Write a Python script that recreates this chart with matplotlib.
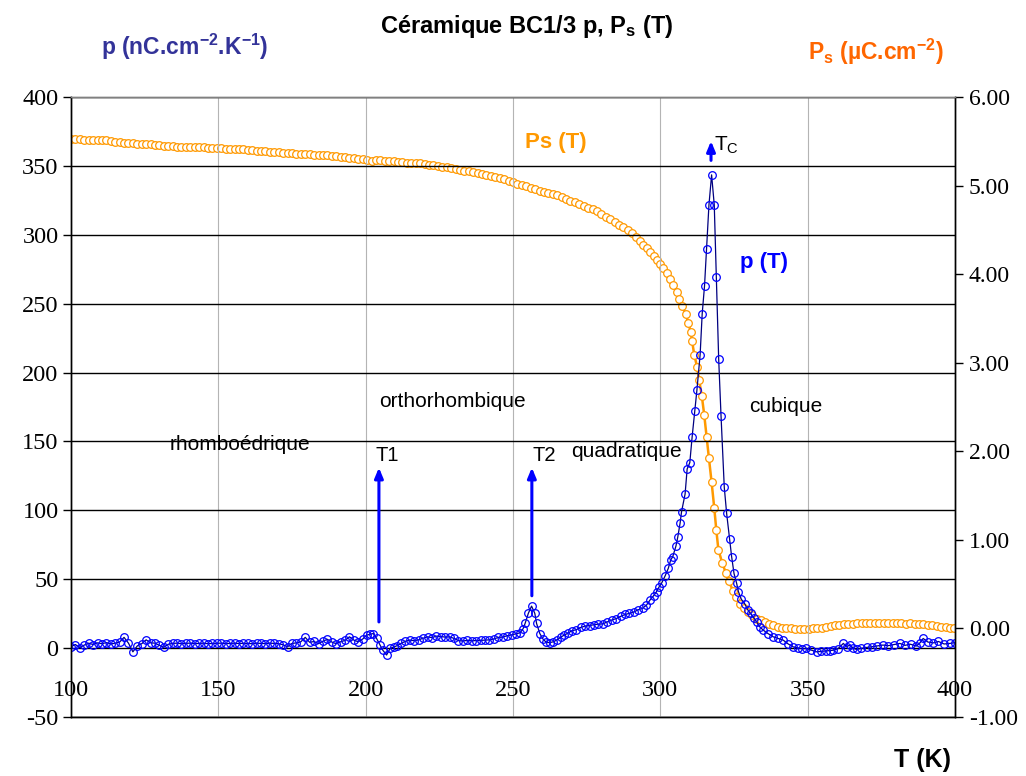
import matplotlib
matplotlib.use("Agg")
import matplotlib.pyplot as plt
import numpy as np

plt.rcParams['mathtext.default'] = 'regular'

# p (T) : courant pyroélectrique, nC.cm-2.K-1
T_p = [100.0, 101.5, 103.0, 104.5, 106.0, 107.5, 109.0, 110.5, 112.0, 113.5,
       115.0, 116.5, 118.0, 119.5, 121.0, 122.5, 124.0, 125.5, 127.0, 128.5,
       130.0, 131.5, 133.0, 134.5, 136.0, 137.5, 139.0, 140.5, 142.0, 143.5,
       145.0, 146.5, 148.0, 149.5, 151.0, 152.5, 154.0, 155.5, 157.0, 158.5,
       160.0, 161.5, 163.0, 164.5, 166.0, 167.5, 169.0, 170.5, 172.0, 173.5,
       175.0, 176.5, 178.0, 179.5, 181.0, 182.5, 184.0, 185.5, 187.0, 188.5,
       190.0, 191.5, 193.0, 194.5, 196.0, 197.5, 199.0, 200.3, 201.5, 202.6,
       203.7, 204.9, 205.8, 207.1, 208.3, 209.5, 210.7, 212.0, 213.5, 215.0,
       216.5, 218.0, 219.5, 221.0, 222.5, 224.0, 225.5, 227.0, 228.5, 230.0,
       231.5, 233.0, 234.5, 236.0, 237.5, 239.0, 240.5, 242.0, 243.5, 245.0,
       246.5, 248.0, 249.5, 251.0, 252.4, 253.4, 254.1, 255.2, 256.3, 257.4,
       258.0, 259.1, 260.2, 261.3, 262.5, 263.7, 265.0, 266.2, 267.4, 268.6,
       270.0, 271.5, 273.0, 274.5, 276.0, 277.5, 279.0, 280.5, 282.0, 283.5,
       285.0, 286.5, 288.0, 289.5, 291.0, 292.5, 294.0, 295.3, 296.5, 297.7,
       298.7, 299.6, 300.4, 301.6, 302.7, 303.5, 304.2, 305.3, 305.9, 306.7,
       307.2, 308.4, 309.1, 310.0, 310.8, 311.7, 312.4, 313.5, 314.2, 315.0,
       315.7, 316.5, 317.4, 318.3, 319.0, 319.8, 320.6, 321.7, 322.5, 323.5,
       324.2, 325.0, 325.9, 326.5, 327.5, 328.7, 329.6, 330.6, 331.7, 332.7,
       333.7, 334.9, 336.5, 338.3, 340.0, 341.7, 343.4, 345.1, 346.6, 348.1,
       349.6, 351.3, 353.0, 354.6, 356.2, 357.6, 358.7, 360.3, 362.1, 363.2,
       364.3, 365.5, 366.6, 368.2, 370.0, 371.8, 373.6, 375.5, 377.4, 379.3,
       381.3, 383.0, 384.9, 386.9, 388.1, 389.2, 390.8, 392.6, 394.4, 396.3,
       398.3, 400.0]
p_val = [1.0, 2.6, 0.3, 2.2, 3.6, 2.6, 3.8, 3.2, 4.0, 3.0,
         3.6, 4.4, 7.8, 3.6, -2.7, 1.6, 3.2, 6.0, 3.8, 3.6,
         2.0, 0.6, 2.8, 3.4, 3.6, 3.2, 3.5, 3.6, 3.3, 3.4,
         3.6, 3.2, 3.4, 3.5, 3.6, 3.3, 3.4, 3.6, 3.3, 3.5,
         3.4, 3.2, 3.6, 3.4, 3.3, 3.6, 3.4, 3.2, 2.4, 1.0,
         3.4, 3.8, 4.6, 7.8, 4.2, 4.8, 3.2, 5.0, 6.4, 4.4,
         3.2, 4.6, 5.6, 8.2, 5.8, 4.6, 6.6, 9.4, 10.0, 10.6,
         7.0, 2.2, -1.5, -5.0, -0.2, 0.8, 1.8, 3.4, 5.0, 5.8,
         5.4, 6.0, 7.2, 8.2, 7.6, 8.7, 8.4, 8.0, 8.2, 7.0,
         5.4, 5.2, 5.6, 5.3, 5.5, 5.6, 5.8, 6.0, 6.6, 7.8,
         8.0, 9.0, 9.6, 10.4, 11.1, 14.0, 17.9, 25.2, 30.5, 25.2,
         17.9, 10.6, 6.5, 4.2, 4.0, 4.6, 6.0, 8.0, 9.4, 10.8,
         12.6, 13.4, 15.0, 16.0, 16.4, 17.0, 17.4, 17.6, 19.0, 20.4,
         21.4, 23.0, 24.4, 25.2, 26.2, 27.8, 29.0, 31.2, 34.9, 38.0,
         40.9, 44.5, 47.0, 52.3, 57.9, 63.9, 66.3, 74.1, 80.4, 90.6,
         99.0, 111.8, 130.0, 134.6, 153.5, 172.3, 187.0, 212.8, 242.5, 263.0,
         290.0, 321.7, 343.5, 321.7, 269.6, 209.9, 168.5, 116.7, 97.8, 79.0,
         66.3, 54.2, 47.0, 41.0, 35.4, 32.0, 28.0, 25.2, 22.0, 19.1,
         15.5, 13.1, 10.6, 8.2, 7.0, 5.8, 3.0, 0.9, 0.2, -0.5,
         -0.2, -1.5, -2.7, -2.4, -2.0, -1.8, -1.5, -0.4, 3.4, 1.0,
         2.2, 0.0, -1.0, -0.2, 0.5, 1.0, 1.6, 2.2, 1.8, 2.6,
         3.4, 2.0, 2.8, 1.5, 3.8, 7.0, 4.4, 3.8, 4.8, 3.0,
         3.4, 4.0]

# Ps (T) : polarisation spontanée, µC.cm-2
T_ps = [100.0, 101.5, 103.0, 104.5, 106.0, 107.5, 109.0, 110.5, 112.0, 113.5,
        115.0, 116.5, 118.0, 119.5, 121.0, 122.5, 124.0, 125.5, 127.0, 128.5,
        130.0, 131.5, 133.0, 134.5, 136.0, 137.5, 139.0, 140.5, 142.0, 143.5,
        145.0, 146.5, 148.0, 149.5, 151.0, 152.5, 154.0, 155.5, 157.0, 158.5,
        160.0, 161.5, 163.0, 164.5, 166.0, 167.5, 169.0, 170.5, 172.0, 173.5,
        175.0, 176.5, 178.0, 179.5, 181.0, 182.5, 184.0, 185.5, 187.0, 188.5,
        190.0, 191.5, 193.0, 194.5, 196.0, 197.5, 199.0, 200.5, 202.0, 203.5,
        205.0, 206.5, 208.0, 209.5, 211.0, 212.5, 214.0, 215.5, 217.0, 218.5,
        220.0, 221.5, 223.0, 224.5, 226.0, 227.5, 229.0, 230.5, 232.0, 233.5,
        235.0, 236.5, 238.0, 239.5, 241.0, 242.5, 244.0, 245.5, 247.0, 248.5,
        250.0, 251.5, 253.0, 254.5, 256.0, 257.5, 259.0, 260.5, 262.0, 263.5,
        265.0, 266.5, 268.0, 269.5, 271.0, 272.5, 274.0, 275.5, 277.0, 278.5,
        280.0, 281.5, 283.0, 284.5, 286.0, 287.5, 289.0, 290.5, 291.8, 293.0,
        294.2, 295.4, 296.6, 297.7, 298.8, 299.9, 301.0, 302.2, 303.3, 304.4,
        305.5, 306.5, 307.4, 308.6, 309.5, 310.3, 310.8, 311.5, 312.5, 313.2,
        314.1, 314.9, 315.7, 316.5, 317.4, 318.3, 319.0, 319.7, 321.0, 322.2,
        323.3, 324.7, 325.8, 327.0, 328.4, 329.8, 331.2, 332.7, 334.0, 335.4,
        336.8, 338.2, 339.8, 341.3, 342.8, 344.3, 345.8, 347.3, 348.8, 350.3,
        351.8, 353.3, 354.8, 356.3, 357.8, 359.3, 360.8, 362.3, 363.8, 365.3,
        366.8, 368.3, 369.8, 371.3, 372.8, 374.3, 375.8, 377.3, 378.8, 380.3,
        381.8, 383.3, 384.8, 386.3, 387.8, 389.3, 390.8, 392.3, 393.8, 395.3,
        396.8, 398.3, 399.8]
ps_val = [5.53, 5.53, 5.53, 5.52, 5.52, 5.52, 5.51, 5.51, 5.51, 5.50,
          5.49, 5.49, 5.48, 5.48, 5.48, 5.47, 5.47, 5.47, 5.47, 5.46,
          5.46, 5.45, 5.45, 5.45, 5.44, 5.44, 5.44, 5.43, 5.43, 5.43,
          5.43, 5.42, 5.42, 5.42, 5.42, 5.41, 5.41, 5.41, 5.41, 5.41,
          5.40, 5.40, 5.39, 5.39, 5.39, 5.38, 5.38, 5.38, 5.37, 5.37,
          5.37, 5.36, 5.36, 5.36, 5.36, 5.35, 5.35, 5.34, 5.34, 5.33,
          5.33, 5.32, 5.32, 5.31, 5.31, 5.30, 5.30, 5.29, 5.28, 5.29,
          5.29, 5.28, 5.28, 5.28, 5.27, 5.27, 5.26, 5.26, 5.25, 5.25,
          5.24, 5.23, 5.23, 5.22, 5.21, 5.21, 5.20, 5.19, 5.18, 5.17,
          5.16, 5.15, 5.14, 5.13, 5.12, 5.11, 5.10, 5.08, 5.07, 5.05,
          5.04, 5.02, 5.01, 4.99, 4.97, 4.96, 4.94, 4.93, 4.92, 4.90,
          4.89, 4.87, 4.85, 4.83, 4.81, 4.79, 4.77, 4.75, 4.73, 4.71,
          4.68, 4.65, 4.62, 4.59, 4.56, 4.53, 4.50, 4.46, 4.42, 4.37,
          4.33, 4.29, 4.25, 4.21, 4.16, 4.12, 4.07, 4.01, 3.95, 3.88,
          3.80, 3.72, 3.64, 3.55, 3.45, 3.35, 3.24, 3.09, 2.95, 2.80,
          2.62, 2.41, 2.16, 1.92, 1.65, 1.36, 1.11, 0.89, 0.74, 0.63,
          0.53, 0.42, 0.35, 0.28, 0.23, 0.19, 0.15, 0.11, 0.09, 0.07,
          0.05, 0.04, 0.02, 0.01, 0.00, 0.00, -0.01, -0.01, -0.01, -0.01,
          0.00, 0.00, 0.01, 0.02, 0.03, 0.04, 0.04, 0.05, 0.05, 0.05,
          0.06, 0.06, 0.06, 0.06, 0.06, 0.06, 0.06, 0.06, 0.06, 0.06,
          0.06, 0.05, 0.06, 0.05, 0.05, 0.05, 0.04, 0.04, 0.03, 0.02,
          0.02, 0.01, 0.01]

left_ticks = [-50, 0, 50, 100, 150, 200, 250, 300, 350, 400]
right_ticks = [-1, 0, 1, 2, 3, 4, 5, 6]
x_ticks = [100, 150, 200, 250, 300, 350, 400]

serif = ['Liberation Serif', 'DejaVu Serif']
sans = ['Liberation Sans', 'DejaVu Sans']

fig = plt.figure(figsize=(10.26, 7.76), dpi=100)
ax = fig.add_axes([71/1026, 1-717/776, (955-71)/1026, (717-97)/776])
ax2 = ax.twinx()
ax.set_zorder(ax2.get_zorder() + 1)
ax.patch.set_visible(False)

# Ps sur l'axe de droite
ax2.plot(T_ps, ps_val, color='#FF9900', lw=1.8, marker='o', ms=5.5,
         mfc='white', mec='#FF9900', mew=0.9)
ax2.set_ylim(-1, 6)
ax2.set_yticks(right_ticks)
ax2.set_yticklabels(['%.2f' % v for v in right_ticks], family=serif, fontsize=17)
ax2.tick_params(axis='y', direction='out', length=6, width=1, color='black', pad=4)

# p sur l'axe de gauche
ax.plot(T_p, p_val, color='#000080', lw=0.9, marker='o', ms=5.5,
        mfc='none', mec='#0000FF', mew=0.9)
ax.set_xlim(100, 400)
ax.set_ylim(-50, 400)
ax.set_yticks(left_ticks)
ax.set_yticklabels([str(v) for v in left_ticks], family=serif, fontsize=17.5)
ax.set_xticks(x_ticks)
ax.set_xticklabels([str(v) for v in x_ticks], family=serif, fontsize=17.5)
ax.tick_params(axis='y', direction='out', length=6, width=1, pad=3)
ax.tick_params(axis='x', direction='in', length=0, pad=-27)

ax.yaxis.grid(True, color='black', lw=1)
ax.xaxis.grid(True, color='#b4b4b4', lw=0.8)
ax.set_axisbelow(True)
for a in (ax, ax2):
    for s in a.spines.values():
        s.set_color('black')
        s.set_linewidth(1)
ax.spines['top'].set_color('#808080')
ax2.spines['top'].set_color('#808080')

# flèches des transitions
arw = dict(arrowstyle='-|>,head_width=0.25,head_length=0.6', color='#0000FF', lw=2.2,
           shrinkA=0, shrinkB=0)
ax.annotate('', xy=(204.5, 131), xytext=(204.5, 19), arrowprops=arw)
ax.annotate('', xy=(256.4, 131), xytext=(256.4, 38), arrowprops=arw)
ax.annotate('', xy=(317.2, 368), xytext=(317.2, 354), arrowprops=arw)

ax.text(203.3, 140, 'T1', family=sans, fontsize=14.5, va='center', ha='left')
ax.text(256.6, 140, 'T2', family=sans, fontsize=14.5, va='center', ha='left')
ax.text(318.3, 365, 'T$_C$', family=sans, fontsize=15, va='center', ha='left')
ax.text(157.3, 148, 'rhomboédrique', family=sans, fontsize=15, ha='center', va='center')
ax.text(229.3, 179, 'orthorhombique', family=sans, fontsize=15, ha='center', va='center')
ax.text(288.5, 143, 'quadratique', family=sans, fontsize=15, ha='center', va='center')
ax.text(342.6, 175, 'cubique', family=sans, fontsize=15, ha='center', va='center')
ax.text(254.0, 367, 'Ps (T)', family=sans, fontsize=16, fontweight='bold',
        color='#FF9900', va='center', ha='left')
ax.text(327.0, 280, 'p (T)', family=sans, fontsize=16, fontweight='bold',
        color='#0000FF', va='center', ha='left')

fig.text(527/1026, 1-27/776, 'Céramique BC1/3 p, P$_s$ (T)', family=sans,
         fontsize=17, fontweight='bold', ha='center', va='center')
fig.text(185/1026, 1-47/776, 'p (nC.cm$^{-2}$.K$^{-1}$)', family=sans,
         fontsize=16.5, fontweight='bold', color='#333399', ha='center', va='center')
fig.text(876/1026, 1-52/776, 'P$_s$ (µC.cm$^{-2}$)', family=sans,
         fontsize=16.5, fontweight='bold', color='#FF6600', ha='center', va='center')
fig.text(922/1026, 1-760/776, 'T (K)', family=sans, fontsize=18,
         fontweight='bold', ha='center', va='center')

fig.savefig('out.png', dpi=100)
